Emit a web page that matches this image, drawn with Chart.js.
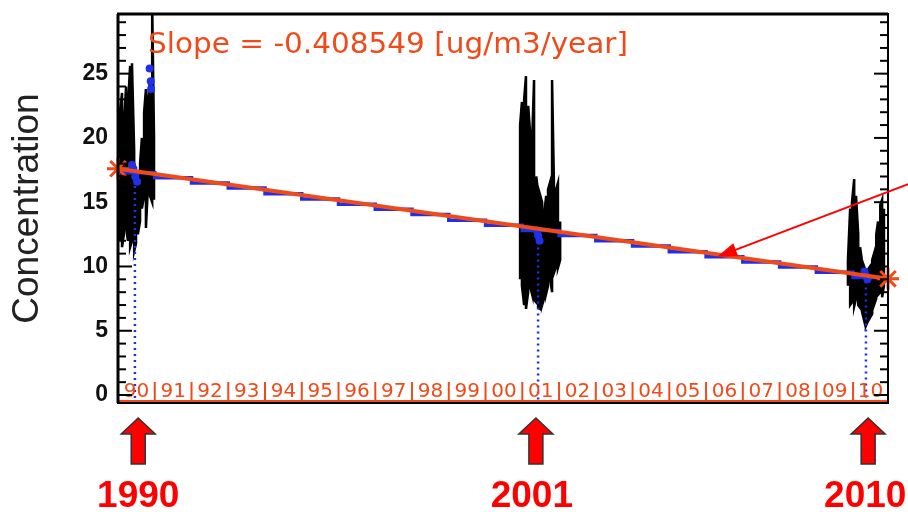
<!DOCTYPE html>
<html>
<head>
<meta charset="utf-8">
<script src="https://cdn.jsdelivr.net/npm/chart.js@4.4.1/dist/chart.umd.min.js"></script>
<style>
  html, body { margin: 0; padding: 0; background: #fff; }
  #wrap { width: 908px; height: 512px; }
</style>
</head>
<body>
<div id="wrap"><canvas id="c" width="908" height="512"></canvas></div>
<script>
// bursts of daily values: [year, low, high]
const burst1990 = [
  [1990.05, 12.0, 22.0], [1990.11, 11.5, 23.5], [1990.16, 12.5, 21.0], [1990.22, 13.0, 24.0],
  [1990.27, 12.0, 22.5], [1990.33, 11.5, 25.6], [1990.38, 12.0, 25.8], [1990.44, 11.2, 19.0],
  [1990.49, 11.8, 17.5], [1990.54, 12.5, 16.5], [1990.60, 13.5, 18.0], [1990.65, 14.5, 20.0],
  [1990.71, 15.5, 22.0], [1990.76, 13.0, 23.8], [1990.82, 16.5, 23.0], [1990.87, 15.5, 24.5],
  [1990.93, 15.0, 30.5], [1990.98, 15.2, 20.0]
];
const burst2001 = [
  [2000.94, 9.0, 21.0], [2000.99, 8.5, 22.8], [2001.05, 7.0, 23.0], [2001.10, 6.7, 24.8],
  [2001.16, 8.0, 22.5], [2001.21, 8.5, 20.5], [2001.27, 7.8, 20.0], [2001.32, 7.4, 24.5],
  [2001.38, 7.2, 17.0], [2001.43, 6.8, 15.8], [2001.48, 6.7, 15.6], [2001.54, 7.0, 15.0],
  [2001.59, 7.5, 14.0], [2001.65, 7.9, 15.5], [2001.70, 8.5, 16.0], [2001.76, 9.0, 16.6],
  [2001.81, 8.0, 24.5], [2001.86, 9.5, 16.6], [2001.92, 10.0, 16.0], [2001.97, 9.9, 16.5],
  [2002.03, 10.5, 13.5]
];
const burst2010 = [
  [2009.86, 8.5, 10.5], [2009.92, 7.0, 14.5], [2009.97, 7.2, 15.0], [2010.03, 6.9, 16.8],
  [2010.08, 7.5, 15.5], [2010.14, 7.0, 12.5], [2010.19, 6.8, 11.5], [2010.24, 6.5, 10.5],
  [2010.30, 5.8, 10.0], [2010.35, 5.4, 9.6], [2010.41, 5.8, 9.8], [2010.46, 6.0, 10.0],
  [2010.52, 6.3, 10.5], [2010.57, 7.0, 11.0], [2010.63, 7.5, 12.5], [2010.68, 7.8, 13.5],
  [2010.74, 8.0, 14.8], [2010.79, 7.6, 15.2], [2010.84, 8.5, 14.5]
];

// annual means (blue steps)
const meanYears = [1990, 1991, 1992, 1993, 1994, 1995, 1996, 1997, 1998, 1999, 2000,
                   2001, 2002, 2003, 2004, 2005, 2006, 2007, 2008, 2009, 2010, 2010.95];
const meanValues = [17.3, 16.9, 16.5, 16.1, 15.65, 15.25, 14.85, 14.45, 14.05, 13.6, 13.2,
                    12.8, 12.4, 12.0, 11.6, 11.15, 10.75, 10.35, 9.95, 9.55, 9.15, 9.15];

// blue sample dots near the campaigns
const blueDots = [[1990.42, 17.6], [1990.47, 17.0], [1990.52, 16.6], [1990.38, 17.9],
                  [1990.86, 25.4], [1990.89, 24.4], [1990.90, 23.8],
                  [2001.40, 12.8], [2001.43, 12.4], [2001.47, 12.0],
                  [2010.31, 9.6], [2010.35, 9.3], [2010.39, 9.0]];

// campaign markers (blue dotted drop lines, red arrows, labels)
const campaignYears = [1990.46, 2001.43, 2010.35];
const campaignTops = [17.2, 12.4, 9.3];
const arrowYears = [1990.55, 2001.37, 2010.41];
const labelYears = [1990.55, 2001.26, 2010.33];
const campaignLabels = ['1990', '2001', '2010'];

// linear trend
const trendYears = [1990.0, 2010.95];
const trendValues = [17.6, 9.04];
const slopeText = 'Slope = -0.408549 [ug/m3/year]';

// year strip in the plot
const stripYears = [1990, 1991, 1992, 1993, 1994, 1995, 1996, 1997, 1998, 1999, 2000,
                    2001, 2002, 2003, 2004, 2005, 2006, 2007, 2008, 2009, 2010];
const stripLabels = ['90', '91', '92', '93', '94', '95', '96', '97', '98', '99', '00',
                     '01', '02', '03', '04', '05', '06', '07', '08', '09', '10'];
const yTicks = [0, 5, 10, 15, 20, 25];

// pointer arrow to the trend line: tail, tip
const pointerTail = [2011.5, 16.4];
const pointerTip = [2006.3, 10.75];

const X_MIN = 1990, X_MAX = 2010.95, Y_MIN = -0.62, Y_MAX = 29.64;
const ORANGE = '#f04a1a';

function zigzag(rows) {
  const pts = [];
  rows.forEach((r, i) => {
    if (i % 2 === 0) { pts.push({x: r[0], y: r[1]}, {x: r[0], y: r[2]}); }
    else { pts.push({x: r[0], y: r[2]}, {x: r[0], y: r[1]}); }
  });
  return pts;
}

const burstStyle = { borderColor: '#000', borderWidth: 2.5, pointRadius: 0, showLine: true, tension: 0 };

const decor = {
  id: 'decor',
  afterDatasetsDraw(chart) {
    const { ctx, chartArea: a, scales: { x, y } } = chart;
    ctx.save();

    // year strip along the bottom
    ctx.strokeStyle = ORANGE;
    ctx.lineWidth = 2;
    const stripTop = a.bottom - 21;
    stripYears.concat([X_MAX]).forEach(yr => {
      const px = x.getPixelForValue(yr);
      ctx.beginPath(); ctx.moveTo(px, stripTop); ctx.lineTo(px, a.bottom - 1); ctx.stroke();
    });
    ctx.beginPath(); ctx.moveTo(a.left, a.bottom - 2); ctx.lineTo(a.right, a.bottom - 2); ctx.stroke();
    ctx.fillStyle = ORANGE;
    ctx.font = '20px "DejaVu Sans"';
    ctx.textAlign = 'center';
    ctx.textBaseline = 'middle';
    stripYears.forEach((yr, i) => {
      const next = i < stripYears.length - 1 ? stripYears[i + 1] : X_MAX;
      const px = (x.getPixelForValue(yr) + x.getPixelForValue(next)) / 2;
      ctx.fillText(stripLabels[i], px, a.bottom - 11);
    });

    // frame
    ctx.strokeStyle = '#000';
    ctx.lineWidth = 2;
    ctx.strokeRect(a.left, a.top, a.right - a.left, a.bottom - a.top);
    ctx.lineWidth = 3;
    ctx.beginPath(); ctx.moveTo(a.left - 1, a.top); ctx.lineTo(a.right, a.top); ctx.stroke();
    ctx.beginPath(); ctx.moveTo(a.left, a.top); ctx.lineTo(a.left, a.bottom); ctx.stroke();

    // inner ticks on left and right axes
    ctx.lineWidth = 2;
    for (let v = 0; v <= 29; v++) {
      const py = y.getPixelForValue(v);
      const len = v % 5 === 0 ? 14 : 8;
      ctx.beginPath(); ctx.moveTo(a.left, py); ctx.lineTo(a.left + len, py); ctx.stroke();
      ctx.beginPath(); ctx.moveTo(a.right, py); ctx.lineTo(a.right - len, py); ctx.stroke();
    }

    // slope text
    ctx.fillStyle = ORANGE;
    ctx.font = '29px "DejaVu Sans"';
    ctx.textAlign = 'left';
    ctx.textBaseline = 'alphabetic';
    const w = ctx.measureText(slopeText).width;
    ctx.save();
    ctx.translate(a.left + 30, a.top + 39);
    ctx.scale(480 / w, 1);
    ctx.fillText(slopeText, 0, 0);
    ctx.restore();

    ctx.restore();
  },
  afterDraw(chart) {
    const { ctx, scales: { x, y } } = chart;
    ctx.save();

    // pointer arrow
    const tx = x.getPixelForValue(pointerTip[0]), ty = y.getPixelForValue(pointerTip[1]);
    const sx = x.getPixelForValue(pointerTail[0]), sy = y.getPixelForValue(pointerTail[1]);
    const ang = Math.atan2(ty - sy, tx - sx);
    ctx.strokeStyle = '#ff0000';
    ctx.fillStyle = '#ff0000';
    ctx.lineWidth = 2;
    ctx.beginPath(); ctx.moveTo(sx, sy); ctx.lineTo(tx - 14 * Math.cos(ang), ty - 14 * Math.sin(ang)); ctx.stroke();
    ctx.beginPath();
    ctx.moveTo(tx, ty);
    ctx.lineTo(tx - 20 * Math.cos(ang) + 7 * Math.sin(ang), ty - 20 * Math.sin(ang) - 7 * Math.cos(ang));
    ctx.lineTo(tx - 20 * Math.cos(ang) - 7 * Math.sin(ang), ty - 20 * Math.sin(ang) + 7 * Math.cos(ang));
    ctx.closePath(); ctx.fill();

    // campaign arrows and year labels
    arrowYears.forEach((yr, i) => {
      const cx = x.getPixelForValue(yr);
      const tip = 418, base = 434, foot = 464;
      ctx.beginPath();
      ctx.moveTo(cx, tip);
      ctx.lineTo(cx + 17, base);
      ctx.lineTo(cx + 7, base);
      ctx.lineTo(cx + 7, foot);
      ctx.lineTo(cx - 7, foot);
      ctx.lineTo(cx - 7, base);
      ctx.lineTo(cx - 17, base);
      ctx.closePath();
      ctx.fillStyle = '#ff0000';
      ctx.fill();
      ctx.strokeStyle = '#333';
      ctx.lineWidth = 1.5;
      ctx.stroke();

      ctx.fillStyle = '#ff0000';
      ctx.font = 'bold 37px "Liberation Sans"';
      ctx.textAlign = 'center';
      ctx.textBaseline = 'alphabetic';
      ctx.fillText(campaignLabels[i], x.getPixelForValue(labelYears[i]), 507);
    });
    ctx.restore();
  }
};

const datasets = [
  {
    data: trendYears.map((t, i) => ({x: t, y: trendValues[i]})),
    borderColor: ORANGE, borderWidth: 4, showLine: true, clip: false,
    pointStyle: 'star', pointRadius: 11, pointBorderWidth: 3,
    pointBorderColor: ORANGE, pointBackgroundColor: ORANGE
  },
  {
    data: blueDots.map(p => ({x: p[0], y: p[1]})),
    pointRadius: 4, pointBackgroundColor: '#2030e8', pointBorderWidth: 0
  },
  {
    data: meanYears.map((t, i) => ({x: t, y: meanValues[i]})),
    borderColor: '#2030e8', borderWidth: 3.5, showLine: true, stepped: true, pointRadius: 0
  }
];
campaignYears.forEach((yr, i) => {
  datasets.push({
    data: [{x: yr, y: campaignTops[i]}, {x: yr, y: Y_MIN}],
    borderColor: '#2030e8', borderWidth: 2.5, borderDash: [2, 4], showLine: true, pointRadius: 0
  });
});
[burst1990, burst2001, burst2010].forEach(b => {
  datasets.push(Object.assign({ data: zigzag(b) }, burstStyle));
});

new Chart(document.getElementById('c'), {
  type: 'scatter',
  data: { datasets },
  options: {
    responsive: false,
    animation: false,
    layout: { padding: { left: 0, top: 12, right: 20, bottom: 109 } },
    plugins: { legend: { display: false }, tooltip: { enabled: false } },
    scales: {
      x: { type: 'linear', min: X_MIN, max: X_MAX, display: false },
      y: {
        type: 'linear', min: Y_MIN, max: Y_MAX,
        afterBuildTicks: s => { s.ticks = yTicks.map(v => ({value: v})); },
        afterFit: s => { s.width = 118; s.paddingTop = 0; s.paddingBottom = 0; },
        grid: { display: false, drawTicks: false },
        border: { display: false },
        ticks: { padding: 10, color: '#111', font: { family: 'Liberation Sans', size: 23, weight: 'bold' } },
        title: {
          display: true, text: 'Concentration', color: '#222',
          font: { family: 'Liberation Sans', size: 37 }, padding: { top: 6, bottom: 0 }
        }
      }
    }
  },
  plugins: [decor]
});
</script>
</body>
</html>
